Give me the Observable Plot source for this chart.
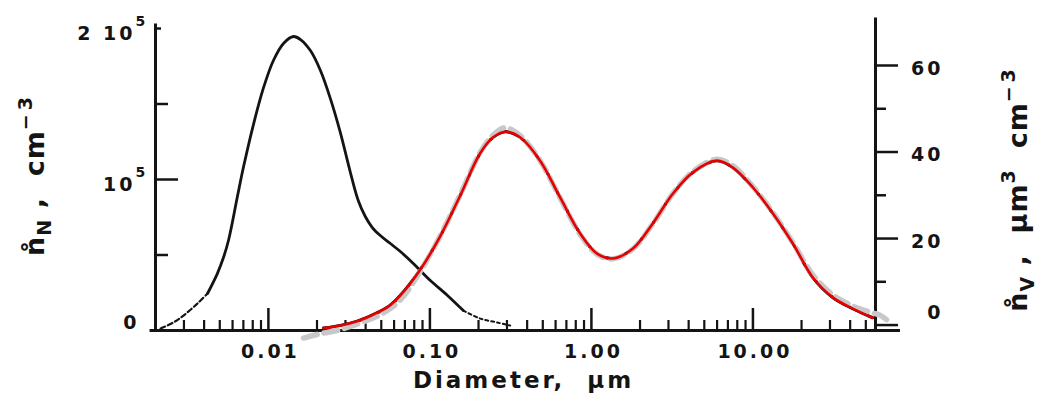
<!DOCTYPE html>
<html><head><meta charset="utf-8">
<script src="https://cdn.jsdelivr.net/npm/d3@7"></script>
<script src="https://cdn.jsdelivr.net/npm/@observablehq/plot@0.6"></script>
<style>
html,body{margin:0;padding:0;background:#fff;}
#chart svg text{letter-spacing:3px;}
#chart svg text.ytitle{letter-spacing:1px;}
</style></head><body><div id="chart"></div>
<script>
// Number distribution (left axis, cm^-3)
const numberDiameter = [0.00215, 0.00258, 0.00298, 0.00364, 0.0042, 0.00483, 0.00527, 0.00566, 0.00643, 0.0070, 0.00808, 0.0093, 0.01074, 0.0124, 0.0143, 0.0158, 0.0182, 0.021, 0.0242, 0.0279, 0.0322, 0.0360, 0.0398, 0.044, 0.0493, 0.0569, 0.0656, 0.0789, 0.1006, 0.128, 0.161, 0.205, 0.261, 0.314];
const numberConc = [1300, 5300, 9900, 17900, 24500, 37700, 48300, 59600, 88700, 107900, 136400, 160300, 178800, 190100, 194700, 192700, 185400, 172200, 153600, 131100, 104600, 86100, 75500, 68200, 62900, 57600, 52300, 44400, 33100, 23400, 13200, 7900, 5300, 3300];
// Volume distribution (right axis, µm^3 cm^-3)
const volumeDiameter = [0.0219, 0.0279, 0.0355, 0.0428, 0.0493, 0.0568, 0.0655, 0.0871, 0.1158, 0.1539, 0.2047, 0.2463, 0.2922, 0.3618, 0.481, 0.640, 0.850, 1.083, 1.36, 1.808, 2.40, 3.20, 4.25, 5.98, 7.52, 10.0, 13.3, 17.7, 23.5, 31.2, 41.5, 55.1];
const volumeConc = [-0.7, -0.1, 0.9, 2.1, 3.2, 4.6, 6.8, 12.8, 20.5, 29.9, 39.7, 43.4, 44.7, 43.4, 38.0, 29.5, 21.2, 16.5, 15.4, 17.7, 23.5, 30.4, 35.3, 38.0, 36.4, 31.8, 25.8, 18.8, 11.0, 6.4, 3.8, 1.7];
// Fitted volume distribution (grey dashed)
const fitDiameter = [0.0165, 0.021, 0.0268, 0.0336, 0.0428, 0.0515, 0.0655, 0.0871, 0.1158, 0.1539, 0.2047, 0.2463, 0.2922, 0.3618, 0.481, 0.640, 0.850, 1.083, 1.36, 1.808, 2.40, 3.20, 4.25, 5.98, 7.52, 10.0, 13.3, 17.7, 23.5, 31.2, 41.5, 55.1, 61, 72];
const fitConc = [-3.0, -2.0, -1.2, -0.1, 1.4, 2.8, 5.8, 12.4, 20.6, 30.1, 39.9, 43.9, 45.6, 43.8, 38.0, 29.4, 21.0, 16.4, 15.3, 17.6, 23.4, 30.4, 35.5, 38.3, 36.8, 32.0, 26.0, 19.0, 11.6, 7.0, 4.4, 2.8, 2.3, 0.4];

const xTickValues = [0.01, 0.1, 1, 10];
const xTickLabels = ["0.01", "0.10", "1.00", "10.00"];
const xMinorTicks = [0.003, 0.004, 0.005, 0.006, 0.007, 0.008, 0.009,
  0.02, 0.03, 0.04, 0.05, 0.06, 0.07, 0.08, 0.09,
  0.2, 0.3, 0.4, 0.5, 0.6, 0.7, 0.8, 0.9,
  2, 3, 4, 5, 6, 7, 8, 9, 20, 30, 40, 50];
const leftTickValues = [0, 100000, 200000];
const leftTickLabels = ["0", "10", "2 10"];
const leftTickExponents = ["", "5", "5"];
const leftMinorTicks = [50000, 150000];
const rightTickValues = [0, 20, 40, 60];
const rightTickLabels = ["0", "20", "40", "60"];
const rightMinorTicks = [10, 30, 50];

// layout
const W = 1039, H = 405;
const mL = 155, mR = 164, mT = 28, mB = 75;
const fw = W - mL - mR, fh = H - mT - mB;
const xDomain = [0.002, 57.4];
const yDomain = [0, 200000];
// right axis (volume) expressed in left-axis units
const VOL_ZERO = 3600, VOL_UNIT = 2865;
const toLeft = v => VOL_ZERO + v * VOL_UNIT;

const numberData = numberDiameter.map((d, i) => ({d, n: numberConc[i]}));
const volumeData = volumeDiameter.map((d, i) => ({d, n: toLeft(volumeConc[i])}));
const fitData = fitDiameter.map((d, i) => ({d, n: toLeft(fitConc[i])}));
const xTicks = xTickValues.map((v, i) => ({v, label: xTickLabels[i]}));
const leftTicks = leftTickValues.map((v, i) => ({v, label: leftTickLabels[i], exp: leftTickExponents[i]}));
const rightTicks = rightTickValues.map((v, i) => ({v: toLeft(v), label: rightTickLabels[i]}));

const FONT = "DejaVu Sans";
const INK = "#141414";
const lab = {fontWeight: "bold", fontFamily: FONT, fill: INK};

const chart = Plot.plot({
  width: W, height: H,
  marginLeft: mL, marginRight: mR, marginTop: mT, marginBottom: mB,
  x: {type: "log", domain: xDomain, axis: null},
  y: {domain: yDomain, axis: null},
  marks: [
    // axis lines
    Plot.ruleX([xDomain[0]], {y1: -1000, y2: 203000, stroke: INK, strokeWidth: 3}),
    Plot.ruleX([xDomain[1]], {y1: 0, y2: toLeft(71), stroke: INK, strokeWidth: 3}),
    Plot.ruleY([0], {x1: 0.00185, x2: 82, stroke: INK, strokeWidth: 3}),
    // x ticks (pointing inward)
    Plot.tickX(xTickValues, {x: d => d, insetTop: fh - 22, stroke: INK, strokeWidth: 2.5}),
    Plot.tickX(xMinorTicks, {x: d => d, insetTop: fh - 10, stroke: INK, strokeWidth: 2.2}),
    // left ticks (inward)
    Plot.tickY([100000], {y: d => d, insetRight: fw - 23, stroke: INK, strokeWidth: 2.5}),
    Plot.tickY([200000], {y: d => d, insetRight: fw - 6, stroke: INK, strokeWidth: 2.5}),
    Plot.tickY(leftMinorTicks, {y: d => d, insetRight: fw - 13, stroke: INK, strokeWidth: 2.5}),
    // right ticks (outward)
    Plot.tickY(rightTicks, {y: "v", insetLeft: fw - 23, dx: 23, stroke: INK, strokeWidth: 2.5}),
    Plot.tickY(rightMinorTicks.map(toLeft), {y: d => d, insetLeft: fw - 11, dx: 11, stroke: INK, strokeWidth: 2.5}),
    // number distribution
    Plot.line(numberData, {x: "d", y: "n", filter: d => d.d >= 0.0042 && d.d <= 0.161, stroke: INK, strokeWidth: 2.8, curve: "catmull-rom"}),
    Plot.line(numberData, {x: "d", y: "n", filter: d => d.d <= 0.0042, stroke: INK, strokeWidth: 2.2, strokeDasharray: "5,3", curve: "catmull-rom"}),
    Plot.line(numberData, {x: "d", y: "n", filter: d => d.d >= 0.161, stroke: INK, strokeWidth: 2, strokeDasharray: "3,3", curve: "catmull-rom"}),
    // volume distribution
    Plot.line(volumeData, {x: "d", y: "n", stroke: INK, strokeWidth: 3.2, curve: "catmull-rom"}),
    Plot.line(fitData, {x: "d", y: "n", stroke: "#c8c8c8", strokeWidth: 5.5, strokeDasharray: "14,7", curve: "catmull-rom"}),
    Plot.line(volumeData, {x: "d", y: "n", stroke: "#e60000", strokeWidth: 2.6, curve: "catmull-rom"}),
    // tick labels
    Plot.text(xTicks, {x: "v", text: "label", frameAnchor: "bottom", dx: 2, dy: 27, fontSize: 19, ...lab}),
    Plot.text(leftTicks, {y: "v", text: "label", filter: d => d.v > 0, frameAnchor: "left", textAnchor: "end", dx: -20, dy: 5, fontSize: 19, ...lab}),
    Plot.text(leftTicks, {y: "v", text: "exp", filter: d => d.v > 0, frameAnchor: "left", textAnchor: "start", dx: -20, dy: -7, fontSize: 14, ...lab}),
    Plot.text(leftTicks, {y: "v", text: "label", filter: d => d.v === 0, frameAnchor: "left", textAnchor: "end", dx: -16, dy: -8, fontSize: 19, ...lab}),
    Plot.text(rightTicks, {y: "v", text: "label", filter: d => d.label !== "0", frameAnchor: "right", textAnchor: "end", dx: 68, dy: 3, fontSize: 19, ...lab}),
    Plot.text(rightTicks, {y: "v", text: "label", filter: d => d.label === "0", frameAnchor: "right", textAnchor: "end", dx: 68, dy: -12, fontSize: 19, ...lab}),
    // x title
    Plot.text(["Diameter,  µm"], {frameAnchor: "bottom", dx: 8, dy: 57, fontSize: 23, ...lab})
  ]
});
document.getElementById("chart").appendChild(chart);

// y titles with sub/superscripts
const svg = d3.select(chart);
function yTitle(x, y, parts) {
  const t = svg.append("text").attr("class", "ytitle")
    .attr("transform", `translate(${x},${y}) rotate(-90)`)
    .attr("text-anchor", "middle")
    .attr("font-family", FONT).attr("font-weight", "bold")
    .attr("font-size", 27).attr("fill", INK);
  parts.forEach(p => {
    const s = t.append("tspan").text(p.text);
    if (p.size) s.attr("font-size", p.size);
    if (p.dy) s.attr("dy", p.dy);
  });
}
yTitle(44, 176, [
  {text: "n\u030A"},
  {text: "N", size: 19, dy: 7},
  {text: "\u00A0,\u00A0\u00A0cm", dy: -7},
  {text: "\u2212\u200A3", size: 19, dy: -12}
]);
yTitle(1027, 190, [
  {text: "n\u030A"},
  {text: "V", size: 19, dy: 7},
  {text: "\u00A0,\u00A0\u00A0µm", dy: -7},
  {text: "3", size: 19, dy: -12},
  {text: "\u00A0\u00A0cm", dy: 12},
  {text: "\u2212\u200A3", size: 19, dy: -12}
]);
</script></body></html>
